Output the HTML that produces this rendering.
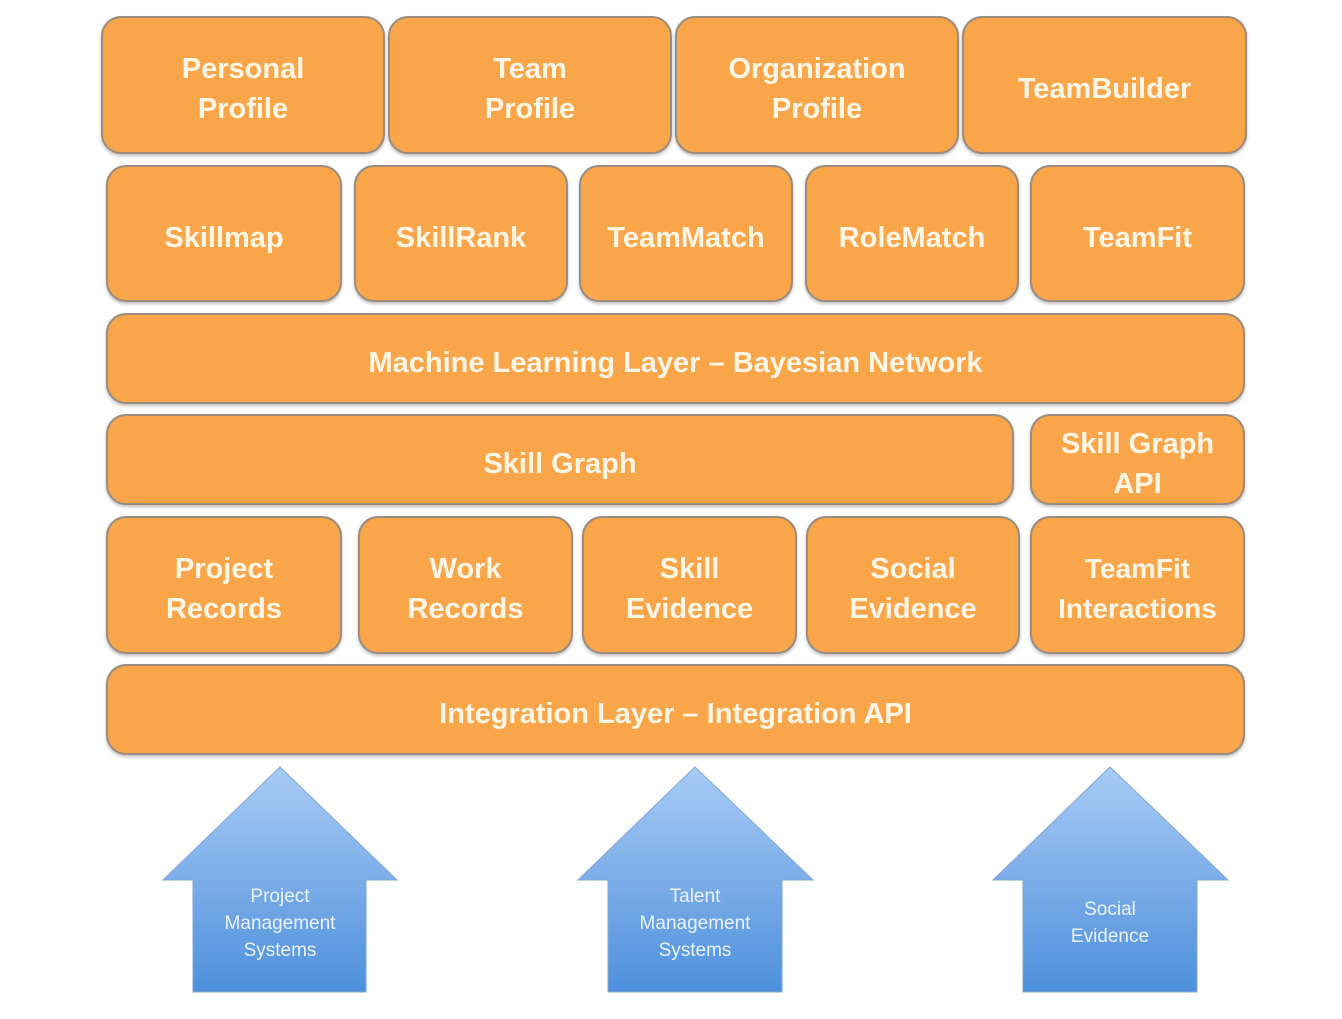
<!DOCTYPE html>
<html><head><meta charset="utf-8"><style>
body{margin:0;width:1342px;height:1019px;background:#fff;position:relative;overflow:hidden;font-family:"Liberation Sans",sans-serif}
.b{position:absolute;box-sizing:border-box;background:#F9A54A;border:2px solid #9a8c80;border-radius:20px;display:flex;align-items:center;justify-content:center;text-align:center;color:#FFF6E6;font-weight:bold;font-size:29px;line-height:40px;padding-top:8px;box-shadow:0 2px 3px rgba(0,0,0,0.25)}
svg{position:absolute;left:0;top:0}
</style></head><body>
<div class="b" style="left:101px;top:16px;width:284px;height:138px">Personal<br>Profile</div>
<div class="b" style="left:388px;top:16px;width:284px;height:138px">Team<br>Profile</div>
<div class="b" style="left:675px;top:16px;width:284px;height:138px">Organization<br>Profile</div>
<div class="b" style="left:962px;top:16px;width:285px;height:138px">TeamBuilder</div>

<div class="b" style="left:106px;top:165px;width:236px;height:137px">Skillmap</div>
<div class="b" style="left:354px;top:165px;width:214px;height:137px">SkillRank</div>
<div class="b" style="left:579px;top:165px;width:214px;height:137px">TeamMatch</div>
<div class="b" style="left:805px;top:165px;width:214px;height:137px">RoleMatch</div>
<div class="b" style="left:1030px;top:165px;width:215px;height:137px">TeamFit</div>

<div class="b" style="left:106px;top:313px;width:1139px;height:91px">Machine Learning Layer – Bayesian Network</div>

<div class="b" style="left:106px;top:414px;width:908px;height:91px">Skill Graph</div>
<div class="b" style="left:1030px;top:414px;width:215px;height:91px">Skill Graph<br>API</div>

<div class="b" style="left:106px;top:516px;width:236px;height:138px">Project<br>Records</div>
<div class="b" style="left:358px;top:516px;width:215px;height:138px">Work<br>Records</div>
<div class="b" style="left:582px;top:516px;width:215px;height:138px">Skill<br>Evidence</div>
<div class="b" style="left:806px;top:516px;width:214px;height:138px">Social<br>Evidence</div>
<div class="b" style="left:1030px;top:516px;width:215px;height:138px;font-size:28px">TeamFit<br>Interactions</div>

<div class="b" style="left:106px;top:664px;width:1139px;height:91px">Integration Layer – Integration API</div>

<svg width="1342" height="1019">
<defs><linearGradient id="g" x1="0" y1="0" x2="0" y2="1">
<stop offset="0" stop-color="#A9CBF5"/><stop offset="1" stop-color="#4E90DC"/></linearGradient></defs>
<g fill="url(#g)" stroke="#7fa6d6" stroke-width="1">
<polygon points="280,767 397,880 366,880 366,992 193,992 193,880 163,880"/>
<polygon points="695,767 813,880 782,880 782,992 608,992 608,880 578,880"/>
<polygon points="1110,767 1228,880 1197,880 1197,992 1023,992 1023,880 993,880"/>
</g>
<g fill="#EAF2FC" font-family="Liberation Sans,sans-serif" font-size="19" text-anchor="middle">
<text x="280" y="902">Project</text><text x="280" y="929">Management</text><text x="280" y="956">Systems</text>
<text x="695" y="902">Talent</text><text x="695" y="929">Management</text><text x="695" y="956">Systems</text>
<text x="1110" y="915">Social</text><text x="1110" y="942">Evidence</text>
</g>
</svg>
</body></html>
